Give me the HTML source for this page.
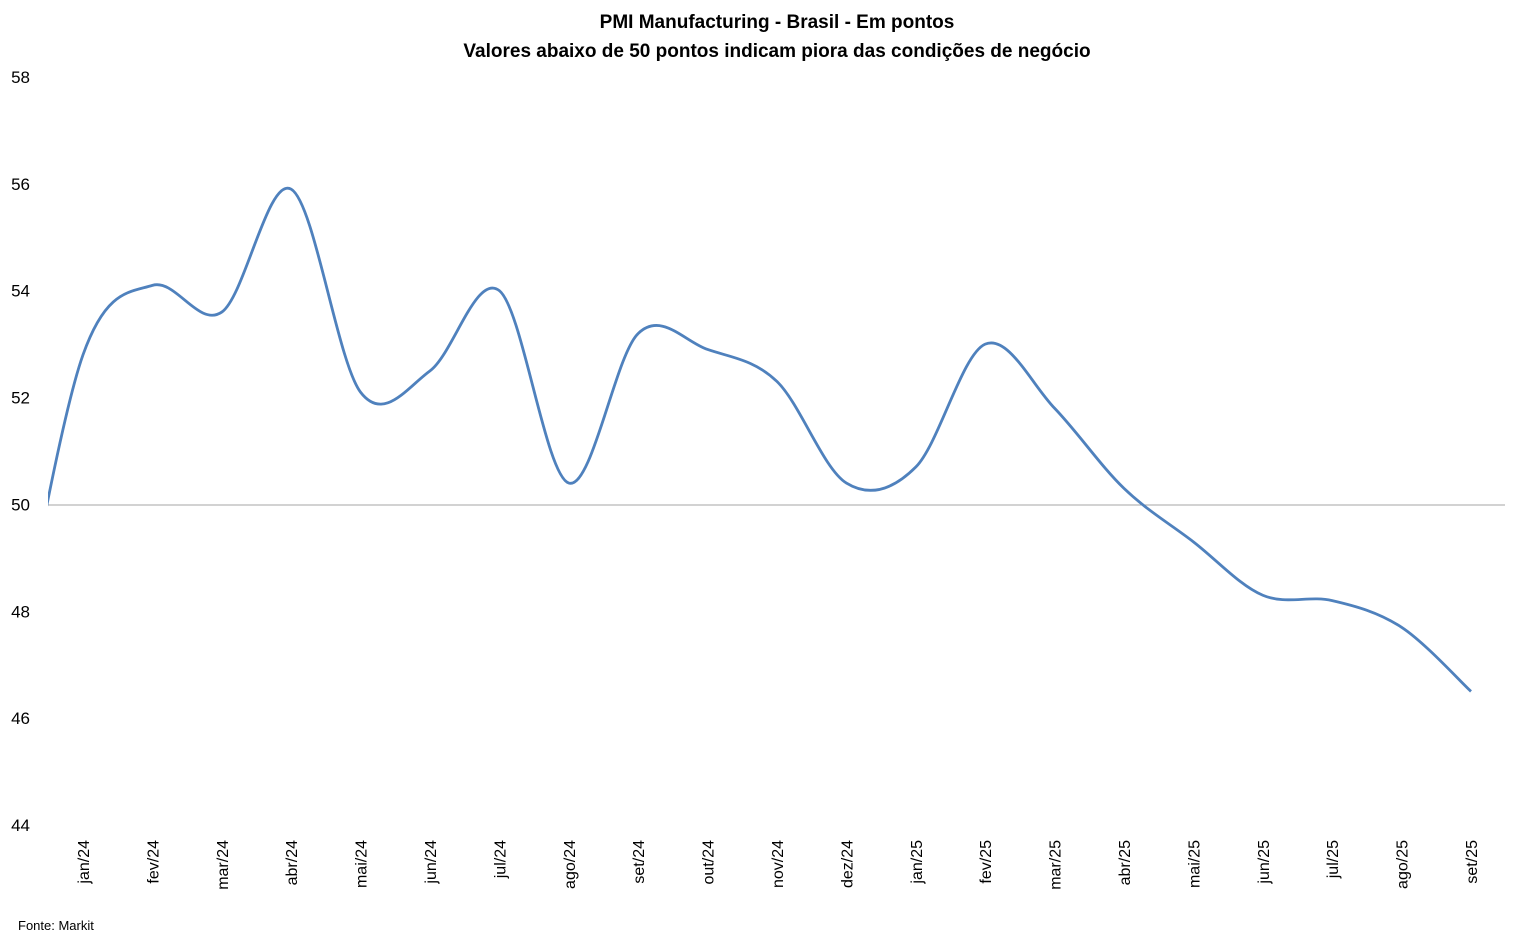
<!DOCTYPE html>
<html><head><meta charset="utf-8"><style>
body{margin:0;background:#fff}
svg text{font-family:"Liberation Sans",sans-serif;fill:#000}
</style></head><body>
<svg width="1519" height="947" xmlns="http://www.w3.org/2000/svg">
<defs><clipPath id="c"><rect x="48" y="60" width="1460" height="780"/></clipPath></defs>
<text x="777" y="28" font-size="19" font-weight="bold" text-anchor="middle">PMI Manufacturing - Brasil - Em pontos</text>
<text x="777" y="57" font-size="19" font-weight="bold" text-anchor="middle">Valores abaixo de 50 pontos indicam piora das condições de negócio</text>
<g font-size="17" text-anchor="end" id="yl"></g>
<line x1="48" y1="505" x2="1505" y2="505" stroke="#a6a6a6" stroke-width="1"/>
<path id="ln" d="" fill="none" stroke="#4f81bd" stroke-width="2.8" clip-path="url(#c)"/>
<g font-size="16" id="xl"></g>
<text x="18" y="930" font-size="13">Fonte: Markit</text>
</svg>
<script>
var Y=v=>77+(58-v)*748/14;
var yl=document.getElementById('yl'),s='';
for(var v=44;v<=58;v+=2)s+='<text x="30" y="'+(Y(v)+6)+'">'+v+'</text>';
yl.innerHTML=s;
var labs=['jan/24','fev/24','mar/24','abr/24','mai/24','jun/24','jul/24','ago/24','set/24','out/24','nov/24','dez/24','jan/25','fev/25','mar/25','abr/25','mai/25','jun/25','jul/25','ago/25','set/25'];
var vals=[46.8,52.8,54.1,53.6,55.9,52.1,52.5,54.0,50.4,53.2,52.9,52.3,50.4,50.7,53.0,51.8,50.3,49.3,48.3,48.2,47.7,46.5];
var X=i=>83+69.4*i;
var pts=vals.map((v,i)=>[X(i-1),Y(v)]);
var d='M'+pts[0][0]+','+pts[0][1];
for(var i=0;i<pts.length-1;i++){
 var p0=pts[Math.max(i-1,0)],p1=pts[i],p2=pts[i+1],p3=pts[Math.min(i+2,pts.length-1)];
 var t=6;
 d+=' C'+(p1[0]+(p2[0]-p0[0])/t)+','+(p1[1]+(p2[1]-p0[1])/t)+' '+(p2[0]-(p3[0]-p1[0])/t)+','+(p2[1]-(p3[1]-p1[1])/t)+' '+p2[0]+','+p2[1];
}
document.getElementById('ln').setAttribute('d',d);
var xl=document.getElementById('xl');s='';
labs.forEach((l,i)=>{var x=X(i)+6;s+='<text transform="translate('+x+',840) rotate(-90)" text-anchor="end">'+l+'</text>';});
xl.innerHTML=s;
</script>
</body></html>
